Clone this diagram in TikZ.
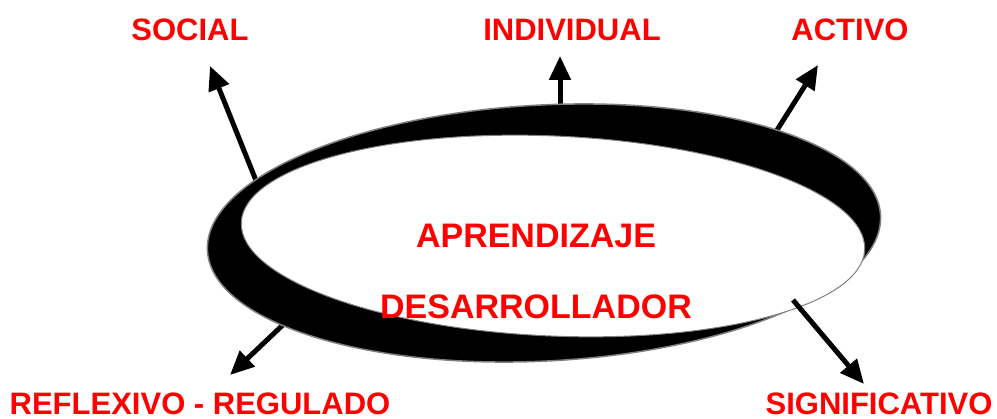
\documentclass[tikz,border=0pt]{standalone}
\usepackage{fontspec}
\setmainfont{Liberation Sans}
\usetikzlibrary{arrows.meta}
\begin{document}
\begin{tikzpicture}[x=1pt, y=-1pt,
    lbl/.style={text=red, font=\fontsize{31}{36}\selectfont\bfseries, inner sep=0pt},
    mid/.style={lbl, font=\fontsize{34}{40}\selectfont\bfseries},
    arr/.style={line width=5pt, -{Triangle[length=24pt, width=21pt]}}]
\useasboundingbox (0, 0) rectangle (997, 419);
\coordinate (s1) at (259, 188);
\coordinate (s2) at (210, 66);
\coordinate (i1) at (560, 108);
\coordinate (i2) at (560, 56);
\coordinate (a1) at (772, 138);
\coordinate (a2) at (818, 65);
\coordinate (r1) at (286, 322);
\coordinate (r2) at (230, 375);
\coordinate (g1) at (793, 300);
\coordinate (g2) at (864, 384);
\draw[arr] (s1) -- (s2);
\draw[arr] (i1) -- (i2);
\draw[arr] (a1) -- (a2);
\draw[arr] (r1) -- (r2);
\fill[black, draw=gray, line width=1.5pt] (544, 233) ellipse [x radius=337, y radius=128, rotate=3];
\fill[white, draw=gray, line width=1pt] (553, 236) ellipse [x radius=312, y radius=100, rotate=-2.5];
\draw[arr] (g1) -- (g2);
\node[lbl] (social) at (190, 30) {SOCIAL};
\node[lbl] (individual) at (572, 30) {INDIVIDUAL};
\node[lbl] (activo) at (850, 30) {ACTIVO};
\node[mid] (aprendizaje) at (536, 236) {APRENDIZAJE};
\node[mid] (desarrollador) at (536, 307) {DESARROLLADOR};
\node[lbl] (reflexivo) at (200, 404) {REFLEXIVO - REGULADO};
\node[lbl] (significativo) at (879, 404) {SIGNIFICATIVO};
\end{tikzpicture}
\end{document}
